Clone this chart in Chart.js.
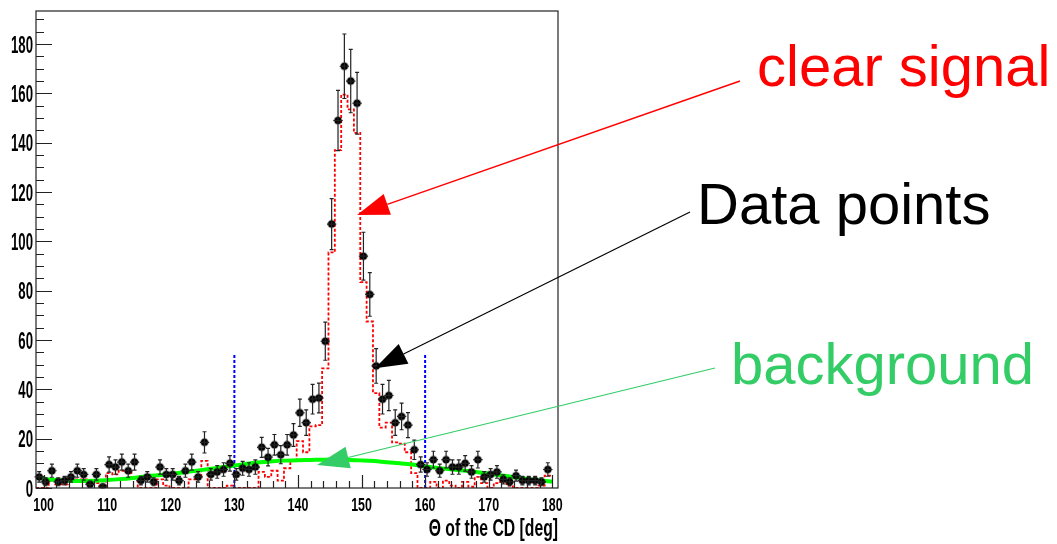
<!DOCTYPE html>
<html>
<head>
<meta charset="utf-8">
<script src="https://cdn.jsdelivr.net/npm/chart.js@4.4.0/dist/chart.umd.min.js"></script>
<style>
  html, body { margin: 0; padding: 0; background: #ffffff; }
  #chart { display: block; }
</style>
</head>
<body>
<canvas id="chart" width="1057" height="544"></canvas>
<script>
// Histogram binning of the CD angle (1 degree bins)
const binStart = 98.8;
const binWidth = 1;

// Measured counts per bin (black points)
const dataCounts = [
  4.5, 2.5, 7, 2.5, 3, 4.5, 7, 5.5, 1.5, 5.5,
  0.5, 9.5, 8.5, 10.5, 7, 10.5, 3, 4.5, 2.5, 8.5,
  5.5, 5.5, 3, 7, 10.5, 4.5, 18.5, 5.5, 6.5, 7.5,
  10, 5.5, 8, 7.5, 8.5, 16.5, 12.5, 17.5, 13.5, 17.5,
  21.5, 30.5, 26.5, 36, 36.5, 59.5, 107, 149, 171, 165,
  156, 94, 78.5, 49.5, 36, 37.5, 26.5, 29, 25.5, 15.5,
  9.5, 7.5, 11.5, 7, 11.5, 8.5, 8.5, 10, 6.5, 11.5,
  4.5, 5.5, 6.5, 3.5, 2.5, 5, 3, 3, 3, 2.5,
  7.5,
];

// Simulated signal (red dashed histogram)
const signalMC = [
  0, 0, 3, 1.5, 1.5, 3, 3.5, 3.5, 2, 2,
  0, 6, 5.5, 7, 6.5, 4, 0, 0, 0, 3.5,
  1, 0, 0, 0, 3.5, 4.5, 11, 0, 0, 0,
  1, 0, 0, 0, 0, 6.5, 4.5, 7, 3, 8,
  11, 19, 14.5, 25, 25.5, 48.5, 95.5, 137, 159.5, 153.5,
  144, 83.5, 67.5, 38.5, 24.5, 26.5, 18.5, 18, 14.5, 6,
  0, 0, 2.5, 0, 3, 1, 0, 2.5, 0.5, 4.5,
  2, 0, 2, 3, 1, 0, 0, 0, 0, 1,
  5,
];

// Background fit (green curve)
const bgFitX = [
  99.7, 102, 104, 106, 108, 110, 112, 114, 116, 118,
  120, 122, 124, 126, 128, 130, 132, 134, 136, 138,
  140, 142, 144, 146, 148, 150, 152, 154, 156, 158,
  160, 162, 164, 166, 168, 170, 172, 174, 176, 178,
  180.1,
];
const bgFitY = [
  3.8, 3.2, 2.9, 2.8, 2.9, 3.2, 3.6, 4.1, 4.7, 5.2,
  5.8, 6.3, 7.0, 7.7, 8.4, 9.1, 9.8, 10.4, 10.8, 11.1,
  11.3, 11.4, 11.5, 11.5, 11.4, 11.2, 10.9, 10.4, 10.0, 9.5,
  8.8, 8.1, 7.6, 7.1, 6.5, 5.8, 5.1, 4.4, 3.7, 3.1,
  2.6,
];

// Angular cut window (blue dashed lines)
const cutLines = [130, 160];
const cutHeight = 54;

const xTickLabels = [100, 110, 120, 130, 140, 150, 160, 170, 180];
const yTickLabels = [0, 20, 40, 60, 80, 100, 120, 140, 160, 180];

const axisTitle = "\u0398 of the CD [deg]";

// Callout labels with arrows: tip in data units, tail in canvas pixels
const callouts = [
  { text: "clear signal", color: "#ff0000", textX: 757, textY: 86, tail: [740, 81], tip: [149.3, 110.7], width: 1.5 },
  { text: "Data points", color: "#000000", textX: 697, textY: 224, tail: [690, 212], tip: [152.1, 48.6], width: 1.2 },
  { text: "background", color: "#33cc66", textX: 731, textY: 384, tail: [715, 368], tip: [143.0, 9.3], width: 1.2 },
];

const binCenter = (i) => binStart + binWidth * (i + 0.5);

const dataPoints = dataCounts.map((v, i) => ({ x: binCenter(i), y: v }));

// Points at lower bin edges, stepped so each value holds across its bin
const signalSteps = signalMC.map((v, i) => ({ x: binStart + binWidth * i, y: v }));
signalSteps.push({
  x: binStart + binWidth * signalMC.length,
  y: signalMC[signalMC.length - 1],
});

const bgFit = bgFitX.map((x, i) => ({ x, y: bgFitY[i] }));

const cutDatasets = cutLines.map((c) => ({
  type: "line",
  data: [{ x: c, y: 0 }, { x: c, y: cutHeight }],
  borderColor: "#0000ff",
  borderWidth: 2,
  borderDash: [3, 2],
  pointRadius: 0,
  order: 2,
}));

// Draws text squeezed horizontally, like the narrow axis font of the original
const drawSquashed = (ctx, text, px, py, squash) => {
  ctx.save();
  ctx.translate(px, py);
  ctx.scale(squash, 1);
  ctx.fillText(text, 0, 0);
  ctx.restore();
};

const errorBars = {
  id: "errorBars",
  afterDatasetsDraw(chart) {
    const { ctx } = chart;
    const { x, y } = chart.scales;

    ctx.save();
    ctx.strokeStyle = "#222222";
    ctx.lineWidth = 1.2;

    dataCounts.forEach((v, i) => {
      // Poisson errors, sqrt(N)
      const err = Math.sqrt(Math.max(v, 1));
      const cx = x.getPixelForValue(binCenter(i));
      const top = y.getPixelForValue(v + err);
      const bottom = y.getPixelForValue(Math.max(v - err, 0));
      const cy = y.getPixelForValue(v);
      const left = x.getPixelForValue(binCenter(i) - binWidth / 2);
      const right = x.getPixelForValue(binCenter(i) + binWidth / 2);

      ctx.beginPath();
      ctx.moveTo(cx, top);
      ctx.lineTo(cx, bottom);
      ctx.moveTo(cx - 2, top);
      ctx.lineTo(cx + 2, top);
      ctx.moveTo(cx - 2, bottom);
      ctx.lineTo(cx + 2, bottom);
      ctx.moveTo(left - 1.5, cy);
      ctx.lineTo(right + 1.5, cy);
      ctx.stroke();
    });

    ctx.restore();
  },
};

const frameAndLabels = {
  id: "frameAndLabels",
  afterDraw(chart) {
    const { ctx, chartArea } = chart;
    const { x, y } = chart.scales;
    const { left, right, top, bottom } = chartArea;

    ctx.save();

    // Frame
    ctx.strokeStyle = "#222222";
    ctx.lineWidth = 1.2;
    ctx.strokeRect(left, top, right - left, bottom - top);

    // Inward ticks on the y axis: major every 20, minor every 5
    ctx.beginPath();
    for (let v = 0; v <= y.max; v += 5) {
      const py = Math.round(y.getPixelForValue(v)) + 0.5;
      const len = v % 20 === 0 ? 16 : 8;
      ctx.moveTo(left, py);
      ctx.lineTo(left + len, py);
    }
    // Inward ticks on the x axis: major every 10, minor every 2
    for (let v = 100; v <= 180; v += 2) {
      const px = Math.round(x.getPixelForValue(v)) + 0.5;
      const len = v % 10 === 0 ? 13 : 7;
      ctx.moveTo(px, bottom);
      ctx.lineTo(px, bottom - len);
    }
    ctx.stroke();

    // Tick labels
    ctx.fillStyle = "#000000";
    ctx.textBaseline = "alphabetic";

    ctx.font = "bold 24px 'Liberation Sans', Arial, sans-serif";
    ctx.textAlign = "right";
    yTickLabels.forEach((v) => {
      drawSquashed(ctx, String(v), left - 3, y.getPixelForValue(v) + 8.5, 0.55);
    });

    ctx.font = "bold 18px 'Liberation Sans', Arial, sans-serif";
    ctx.textAlign = "center";
    xTickLabels.forEach((v) => {
      drawSquashed(ctx, String(v), x.getPixelForValue(v), bottom + 22.5, 0.69);
    });

    // Axis title
    ctx.font = "bold 23px 'Liberation Sans', Arial, sans-serif";
    ctx.textAlign = "right";
    drawSquashed(ctx, axisTitle, right, 536, 0.684);

    // Callouts
    ctx.font = "58px 'Liberation Sans', Arial, sans-serif";
    ctx.textAlign = "left";
    callouts.forEach(({ text, color, textX, textY, tail, tip, width }) => {
      const tx = x.getPixelForValue(tip[0]);
      const ty = y.getPixelForValue(tip[1]);
      const angle = Math.atan2(ty - tail[1], tx - tail[0]);
      const headLength = 32;
      const headHalf = 11;
      const bx = tx - headLength * Math.cos(angle);
      const by = ty - headLength * Math.sin(angle);

      ctx.strokeStyle = color;
      ctx.fillStyle = color;
      ctx.lineWidth = width;

      ctx.beginPath();
      ctx.moveTo(tail[0], tail[1]);
      ctx.lineTo(bx, by);
      ctx.stroke();

      ctx.beginPath();
      ctx.moveTo(tx, ty);
      ctx.lineTo(bx + headHalf * Math.sin(angle), by - headHalf * Math.cos(angle));
      ctx.lineTo(bx - headHalf * Math.sin(angle), by + headHalf * Math.cos(angle));
      ctx.closePath();
      ctx.fill();

      ctx.fillText(text, textX, textY);
    });

    ctx.restore();
  },
};

new Chart(document.getElementById("chart"), {
  type: "scatter",
  data: {
    datasets: [
      {
        label: "Data points",
        data: dataPoints,
        backgroundColor: "#000000",
        borderColor: "rgba(0, 0, 0, 0.3)",
        borderWidth: 2,
        pointRadius: 3.5,
        order: 0,
      },
      {
        type: "line",
        label: "background",
        data: bgFit,
        borderColor: "#00ff00",
        borderWidth: 4,
        tension: 0.4,
        pointRadius: 0,
        order: 1,
      },
      ...cutDatasets,
      {
        type: "line",
        label: "clear signal",
        data: signalSteps,
        borderColor: "#ff0000",
        borderWidth: 1.8,
        borderDash: [3, 2],
        stepped: "before",
        pointRadius: 0,
        order: 3,
      },
    ],
  },
  options: {
    responsive: false,
    animation: false,
    devicePixelRatio: 1,
    layout: {
      padding: { left: 36, top: 11, right: 499, bottom: 56 },
    },
    scales: {
      x: { type: "linear", min: binStart, max: 180.9, display: false },
      y: { type: "linear", min: 0, max: 193.4, display: false },
    },
    plugins: {
      legend: { display: false },
      tooltip: { enabled: false },
    },
  },
  plugins: [errorBars, frameAndLabels],
});
</script>
</body>
</html>
